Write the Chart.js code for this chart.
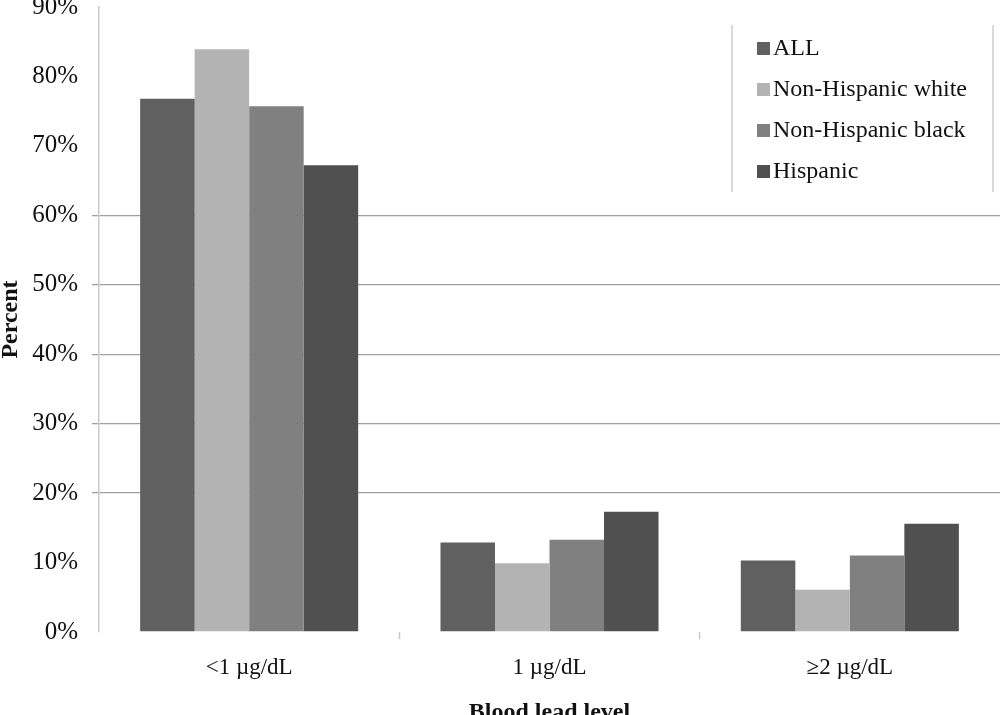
<!DOCTYPE html>
<html>
<head>
<meta charset="utf-8">
<script src="https://cdn.jsdelivr.net/npm/chart.js@4"></script>
<style>
  html, body { margin: 0; padding: 0; background: #fff; }
  #wrap { width: 1000px; height: 715px; position: relative; }
</style>
</head>
<body>
<div id="wrap"><canvas id="c" width="1000" height="715"></canvas></div>
<script>
const categories = ['<1 \u00b5g/dL', '1 \u00b5g/dL', '\u22652 \u00b5g/dL'];
const seriesNames = ['ALL', 'Non-Hispanic white', 'Non-Hispanic black', 'Hispanic'];
const allValues = [76.8, 12.9, 10.3];
const whiteValues = [83.9, 9.9, 6.1];
const blackValues = [75.7, 13.3, 11.0];
const hispanicValues = [67.2, 17.3, 15.6];
const seriesColors = ['#606060', '#b3b3b3', '#808080', '#505050'];
const yTicks = { min: 0, max: 90, step: 10 };
const gridShownMin = 20, gridShownMax = 60;

const serif = '"Liberation Serif", "Times New Roman", "DejaVu Serif", serif';

const legendPlugin = {
  id: 'boxLegend',
  afterDraw(chart) {
    const ctx = chart.ctx;
    const x0 = 732, x1 = 993, y0 = 25, y1 = 192;
    ctx.save();
    ctx.fillStyle = '#ffffff';
    ctx.fillRect(x0, y0, x1 - x0, y1 - y0);
    ctx.strokeStyle = '#d9d9d9';
    ctx.lineWidth = 2;
    ctx.beginPath();
    ctx.moveTo(x0, y0); ctx.lineTo(x0, y1);
    ctx.moveTo(x1, y0); ctx.lineTo(x1, y1);
    ctx.stroke();
    ctx.font = '24px ' + serif;
    ctx.textBaseline = 'middle';
    ctx.textAlign = 'left';
    chart.data.datasets.forEach((ds, i) => {
      const cy = 48 + i * 41;
      ctx.fillStyle = ds.backgroundColor;
      ctx.fillRect(757, cy - 6, 13, 13);
      ctx.fillStyle = '#111';
      ctx.fillText(ds.label, 773, cy + 1);
    });
    ctx.restore();
  }
};

const mk = (i, data) => ({
  label: seriesNames[i],
  data: data,
  backgroundColor: seriesColors[i],
  borderWidth: 0,
  barPercentage: 1.0,
  categoryPercentage: 0.726
});

new Chart(document.getElementById('c'), {
  type: 'bar',
  data: {
    labels: categories,
    datasets: [mk(0, allValues), mk(1, whiteValues), mk(2, blackValues), mk(3, hispanicValues)]
  },
  options: {
    responsive: false,
    animation: false,
    devicePixelRatio: 1,
    layout: { padding: 0 },
    plugins: { legend: { display: false }, tooltip: { enabled: false } },
    scales: {
      x: {
        grid: {
          display: true,
          drawOnChartArea: false,
          drawTicks: true,
          tickLength: 7,
          tickColor: (c) => (c.index === 1 || c.index === 2) ? '#c8c8c8' : 'rgba(0,0,0,0)',
          tickWidth: 1.5,
          offset: true
        },
        border: { display: false },
        ticks: {
          font: { family: serif, size: 23 },
          color: '#111',
          padding: 15,
          maxRotation: 0
        },
        title: {
          display: true,
          text: 'Blood lead level',
          font: { family: serif, size: 24, weight: 'bold', lineHeight: 1 },
          color: '#111',
          padding: { top: 0, bottom: -10 }
        },
        afterFit(scale) {
          scale.height = 83;
          scale.paddingLeft = 0;
          scale.paddingRight = 0;
        }
      },
      y: {
        min: yTicks.min,
        max: yTicks.max,
        grid: {
          color: (c) => (c.tick && c.tick.value >= gridShownMin && c.tick.value <= gridShownMax) ? '#a0a0a0' : 'rgba(0,0,0,0)',
          tickColor: (c) => (c.tick && c.tick.value >= gridShownMin && c.tick.value <= gridShownMax) ? '#a0a0a0' : 'rgba(0,0,0,0)',
          lineWidth: 1.3,
          tickLength: 7
        },
        border: { display: true, color: '#c8c8c8', width: 1.5 },
        ticks: {
          stepSize: yTicks.step,
          font: { family: serif, size: 25, lineHeight: 1 },
          color: '#111',
          padding: 14,
          callback: (v) => v + '%'
        },
        title: {
          display: true,
          text: 'Percent',
          font: { family: serif, size: 24, weight: 'bold', lineHeight: 1 },
          color: '#111',
          padding: { top: -1, bottom: 0 }
        },
        afterFit(scale) {
          scale.width = 99;
          scale.paddingTop = 7;
          scale.paddingBottom = 0;
        }
      }
    }
  },
  plugins: [legendPlugin]
});
</script>
</body>
</html>
